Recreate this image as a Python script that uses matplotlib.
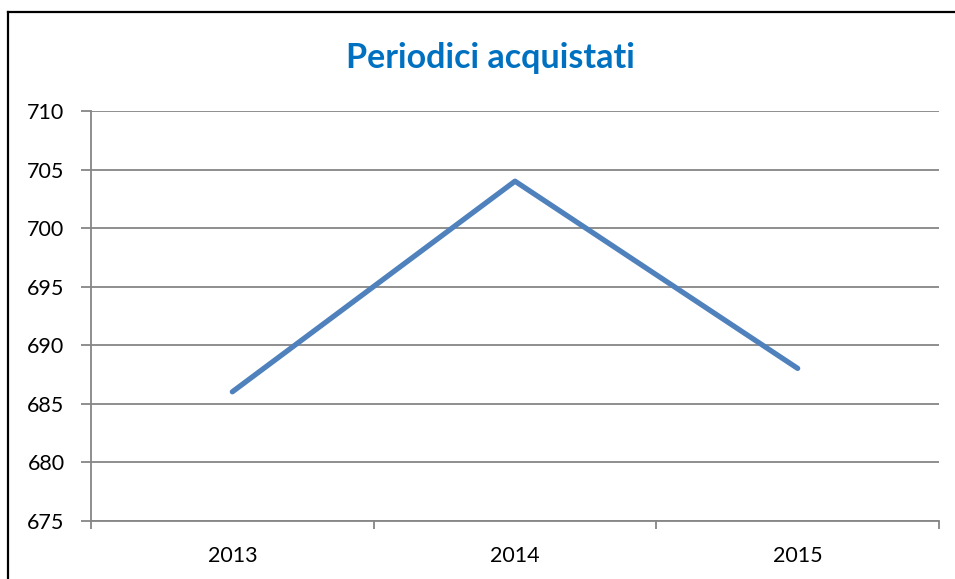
import matplotlib.pyplot as plt
from matplotlib.lines import Line2D

# data
years = ["2013", "2014", "2015"]
periodici = [686, 704, 688]
y_ticks = [675, 680, 685, 690, 695, 700, 705, 710]

plt.rcParams['font.family'] = ['Lato', 'DejaVu Sans']

fig = plt.figure(figsize=(9.55, 5.79), dpi=100)
ax = fig.add_axes([91/955, 58.5/579, 848/955, 409.5/579])

x = list(range(len(years)))
ax.plot(x, periodici, color="#4F81BD", linewidth=3.8, solid_capstyle="round", zorder=3)

ax.set_xlim(-0.5, len(years) - 0.5)
ax.set_ylim(675, 710)
ax.set_yticks(y_ticks)
ax.set_yticklabels([str(v) for v in y_ticks], fontsize=15.5)
ax.grid(axis="y", color="#868686", linewidth=1.3, zorder=0)

# category labels centered, tick marks on boundaries
ax.set_xticks(x)
ax.set_xticklabels(years, fontsize=15.5)
ax.set_xticks([i - 0.5 for i in range(len(years) + 1)], minor=True)
ax.tick_params(axis="x", which="major", length=0, pad=18)
ax.tick_params(axis="x", which="minor", length=6, width=1.3, color="#868686", direction="out")
ax.tick_params(axis="y", length=7, width=1.3, color="#868686", direction="out", pad=12)

for side in ["top", "right"]:
    ax.spines[side].set_visible(False)
for side in ["left", "bottom"]:
    ax.spines[side].set_color("#868686")
    ax.spines[side].set_linewidth(1.3)

fig.text(490/955, 1 - 58/579, "Periodici acquistati", ha="center", va="center",
         fontsize=24.5, fontweight="bold", color="#0070C0")

# chart border (only left and top edges visible in the crop)
top = 1 - 11.5/579
left = 8/955
fig.add_artist(Line2D([left, left], [0, top], transform=fig.transFigure, color="black", linewidth=1.6))
fig.add_artist(Line2D([left, 1], [top, top], transform=fig.transFigure, color="black", linewidth=1.6))

fig.savefig("out.png", dpi=100)
